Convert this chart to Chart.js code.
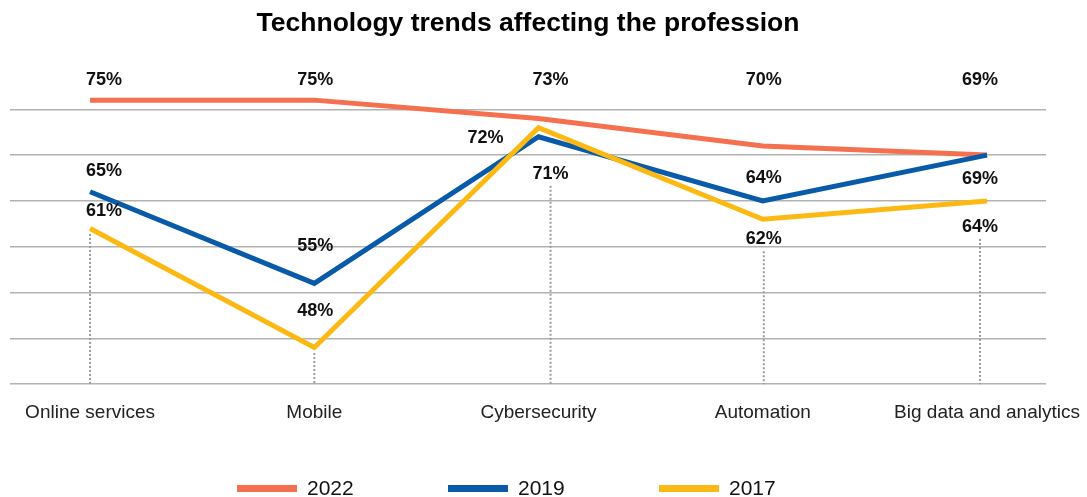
<!DOCTYPE html>
<html>
<head>
<meta charset="utf-8">
<title>Technology trends affecting the profession</title>
<script src="https://cdn.jsdelivr.net/npm/chart.js@4.4.1/dist/chart.umd.min.js"></script>
<style>
  body { margin: 0; background: #fff; }
  #wrap { position: relative; width: 1087px; height: 497px; }
  #legend {
    position: absolute; left: 237px; top: 476px;
    display: flex; font-family: "Liberation Sans", Arial, sans-serif;
    font-size: 21px; color: #111;
  }
  #legend .item { display: flex; align-items: center; width: 211px; }
  #legend .swatch { width: 60px; height: 7px; margin-right: 10px; }
</style>
</head>
<body>
<div id="wrap">
  <canvas id="chart" width="1087" height="497"></canvas>
  <div id="legend"></div>
</div>
<script>
const categories = ["Online services", "Mobile", "Cybersecurity", "Automation", "Big data and analytics"];
const years = ["2022", "2019", "2017"];
const values2022 = [75, 75, 73, 70, 69];
const values2019 = [65, 55, 71, 64, 69];
const values2017 = [61, 48, 72, 62, 64];
const gridTicks = [44, 49, 54, 59, 64, 69, 74];

const colors = { "2022": "#f4704e", "2019": "#0a5aaa", "2017": "#fdb913" };
const FONT = "'Liberation Sans', Arial, sans-serif";

// where each value label sits relative to its point
const labelPlacement = {
  "2022": { top: true, dx: [14, 1, 12, 1, -7] },
  "2019": { dx: [14, 1, 12, 1, -7], dy: [-21, -37, 37, -23, 24] },
  "2017": { dx: [14, 1, -53, 1, -7], dy: [-17, -37, 10, 20, 26] }
};

function toPoints(values) {
  return values.map((v, i) => ({ x: i, y: v }));
}

function labelPositions(chart) {
  const out = [];
  chart.data.datasets.forEach((ds, di) => {
    const meta = chart.getDatasetMeta(di);
    const place = labelPlacement[ds.label];
    meta.data.forEach((pt, i) => {
      const x = pt.x + place.dx[i];
      const y = place.top ? chart.chartArea.top - 2 : pt.y + place.dy[i];
      out.push({ index: i, x, y, text: ds.data[i].y + "%" });
    });
  });
  return out;
}

const dropLines = {
  id: "dropLines",
  beforeDatasetsDraw(chart) {
    const ctx = chart.ctx;
    const bottom = chart.chartArea.bottom;
    const labels = labelPositions(chart);
    ctx.save();
    ctx.strokeStyle = "#9b9b9b";
    ctx.lineWidth = 2;
    ctx.setLineDash([2, 2]);
    categories.forEach((c, i) => {
      let lowest = { x: 0, y: -Infinity };
      chart.data.datasets.forEach((ds, di) => {
        const pt = chart.getDatasetMeta(di).data[i];
        if (pt.y + 2.5 > lowest.y) lowest = { x: pt.x, y: pt.y + 2.5 };
      });
      labels.filter(l => l.index === i).forEach(l => {
        if (l.y + 9 > lowest.y) lowest = { x: l.x, y: l.y + 9 };
      });
      ctx.beginPath();
      ctx.moveTo(lowest.x, lowest.y + 3);
      ctx.lineTo(lowest.x, bottom);
      ctx.stroke();
    });
    ctx.restore();
  }
};

const valueLabels = {
  id: "valueLabels",
  afterDatasetsDraw(chart) {
    const ctx = chart.ctx;
    ctx.save();
    ctx.font = "bold 18px " + FONT;
    ctx.fillStyle = "#111";
    ctx.textAlign = "center";
    ctx.textBaseline = "middle";
    labelPositions(chart).forEach(l => ctx.fillText(l.text, l.x, l.y));
    ctx.restore();
  }
};

const series = [values2022, values2019, values2017];
// 2017 drawn on top, 2022 at the back
const drawOrder = [3, 2, 1];

new Chart(document.getElementById("chart"), {
  type: "line",
  data: {
    datasets: years.map((y, i) => ({
      label: y,
      data: toPoints(series[i]),
      borderColor: colors[y],
      backgroundColor: colors[y],
      borderWidth: 5,
      pointRadius: 0,
      tension: 0,
      order: drawOrder[i]
    }))
  },
  options: {
    responsive: false,
    animation: false,
    layout: { padding: { left: 10, right: 41, bottom: 64 } },
    plugins: {
      legend: { display: false },
      tooltip: { enabled: false },
      title: {
        display: true,
        text: "Technology trends affecting the profession",
        color: "#000",
        font: { family: FONT, size: 26.5, weight: "bold" },
        padding: { top: 8, bottom: 42 }
      }
    },
    scales: {
      x: {
        type: "linear",
        min: -0.357,
        max: 4.263,
        afterBuildTicks: scale => { scale.ticks = categories.map((c, i) => ({ value: i })); },
        // the end labels may hang past the plot edges
        afterFit: scale => { scale.paddingLeft = 0; scale.paddingRight = 0; },
        ticks: {
          callback: v => categories[v],
          autoSkip: false,
          maxRotation: 0,
          padding: 9,
          color: "#222",
          font: { family: FONT, size: 19 }
        },
        grid: { display: false },
        border: { display: false }
      },
      y: {
        min: 44,
        max: 77,
        afterBuildTicks: scale => { scale.ticks = gridTicks.map(v => ({ value: v })); },
        ticks: { display: false },
        grid: { color: "#b2b2b2", lineWidth: 1.5, drawTicks: false },
        border: { display: false }
      }
    }
  },
  plugins: [dropLines, valueLabels]
});

// legend below the plot
const legend = document.getElementById("legend");
years.forEach(y => {
  const item = document.createElement("div");
  item.className = "item";
  const sw = document.createElement("span");
  sw.className = "swatch";
  sw.style.background = colors[y];
  const txt = document.createElement("span");
  txt.textContent = y;
  item.appendChild(sw);
  item.appendChild(txt);
  legend.appendChild(item);
});
</script>
</body>
</html>
